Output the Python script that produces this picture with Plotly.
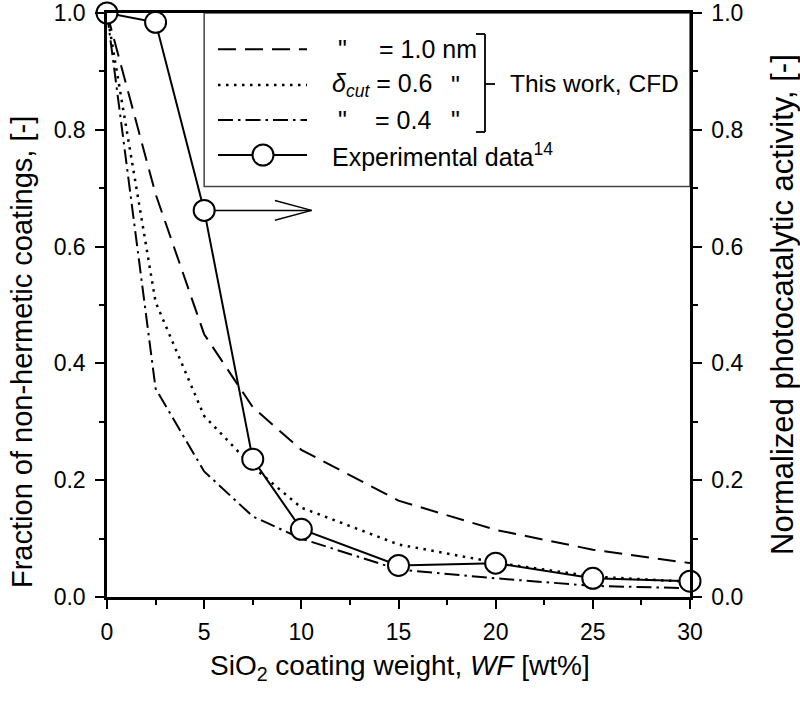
import plotly.graph_objects as go

# ---- data ----
wf_cfd = [0, 2.5, 5, 7.5, 10, 15, 20, 25, 30]
frac_10nm = [1.0, 0.69, 0.45, 0.325, 0.252, 0.165, 0.115, 0.081, 0.058]
frac_06nm = [1.0, 0.505, 0.31, 0.223, 0.153, 0.09, 0.059, 0.035, 0.026]
frac_04nm = [1.0, 0.357, 0.215, 0.138, 0.10, 0.047, 0.032, 0.019, 0.015]

wf_exp = [0, 2.5, 5, 7.5, 10, 15, 20, 25, 30]
activity_exp = [1.0, 0.984, 0.662, 0.236, 0.116, 0.054, 0.058, 0.032, 0.027]

x_ticks = [0, 5, 10, 15, 20, 25, 30]
y_ticks = [0.0, 0.2, 0.4, 0.6, 0.8, 1.0]

FONT = "Liberation Sans, Arial, sans-serif"
BLACK = "black"

DASH_LONG = "18px,9px"
DOT = "2.5px,5.5px"
DASH_DOT = "15px,5px,2.5px,5px"

fig = go.Figure()

fig.add_trace(go.Scatter(x=wf_cfd, y=frac_10nm, mode="lines",
                         line=dict(color=BLACK, width=2, dash=DASH_LONG),
                         showlegend=False))
fig.add_trace(go.Scatter(x=wf_cfd, y=frac_06nm, mode="lines",
                         line=dict(color=BLACK, width=2.5, dash=DOT),
                         showlegend=False))
fig.add_trace(go.Scatter(x=wf_cfd, y=frac_04nm, mode="lines",
                         line=dict(color=BLACK, width=2, dash=DASH_DOT),
                         showlegend=False))
fig.add_trace(go.Scatter(x=wf_exp, y=activity_exp, mode="lines+markers",
                         yaxis="y2", cliponaxis=False,
                         line=dict(color=BLACK, width=2),
                         marker=dict(symbol="circle", size=21, color="white",
                                     line=dict(color=BLACK, width=2)),
                         showlegend=False))

W, H = 800, 704
L, T = 107, 13
PW, PH = 583, 584
R = W - L - PW
B = H - T - PH

SX0, SY1 = L, T + PH


def px(xs):
    return (xs - SX0) / PW


def py(ys):
    return (SY1 - ys) / PH


shapes = []
annotations = []

# legend box (data coords)
shapes.append(dict(type="rect", xref="x", yref="y", x0=5.0, x1=30, y0=0.703, y1=1.0,
                   line=dict(color="#444", width=1.5), fillcolor="rgba(0,0,0,0)", layer="below"))

# legend samples
rows = [49.3, 85, 120, 155]
lx0, lx1 = px(218), px(307)
for yy, dash in zip(rows[:3], [DASH_LONG, DOT, DASH_DOT]):
    shapes.append(dict(type="line", xref="paper", yref="paper", x0=lx0, x1=lx1,
                       y0=py(yy), y1=py(yy),
                       line=dict(color=BLACK, width=2.5 if dash == DOT else 2, dash=dash)))
shapes.append(dict(type="line", xref="paper", yref="paper", x0=lx0, x1=lx1,
                   y0=py(rows[3]), y1=py(rows[3]), line=dict(color=BLACK, width=2)))
rr = 10.5
shapes.append(dict(type="circle", xref="paper", yref="paper",
                   x0=px(263 - rr), x1=px(263 + rr), y0=py(rows[3] + rr), y1=py(rows[3] - rr),
                   fillcolor="white", line=dict(color=BLACK, width=2)))

# bracket
bx = px(485)
shapes.append(dict(type="line", xref="paper", yref="paper", x0=bx, x1=bx, y0=py(34), y1=py(132),
                   line=dict(color=BLACK, width=1.8)))
shapes.append(dict(type="line", xref="paper", yref="paper", x0=px(476), x1=bx, y0=py(34), y1=py(34),
                   line=dict(color=BLACK, width=1.8)))
shapes.append(dict(type="line", xref="paper", yref="paper", x0=px(476), x1=bx, y0=py(132), y1=py(132),
                   line=dict(color=BLACK, width=1.8)))
shapes.append(dict(type="line", xref="paper", yref="paper", x0=bx, x1=px(495), y0=py(84), y1=py(84),
                   line=dict(color=BLACK, width=1.8)))

# arrow toward right axis
ay = activity_exp[2]
shapes.append(dict(type="line", xref="x", yref="y2", x0=5.5, x1=10.53, y0=ay, y1=ay,
                   line=dict(color=BLACK, width=1.5)))
shapes.append(dict(type="line", xref="x", yref="y2", x0=8.64, x1=10.53, y0=ay + 0.017, y1=ay,
                   line=dict(color=BLACK, width=1.5)))
shapes.append(dict(type="line", xref="x", yref="y2", x0=8.64, x1=10.53, y0=ay - 0.017, y1=ay,
                   line=dict(color=BLACK, width=1.5)))

LEG = 25


def txt(x, y, s, anchor="left", size=LEG):
    annotations.append(dict(xref="paper", yref="paper", x=x, y=y, text=s, showarrow=False,
                            xanchor=anchor, yanchor="middle",
                            font=dict(family=FONT, size=size, color=BLACK)))


txt(px(342), py(rows[0]), '"', "center")
txt(px(377), py(rows[0]), "= 1.0 nm")
txt(px(330), py(rows[1]), "<i>δ</i><sub><i>cut</i></sub> = 0.6")
txt(px(455), py(rows[1]), '"', "center")
txt(px(342), py(rows[2]), '"', "center")
txt(px(373), py(rows[2]), "= 0.4")
txt(px(455), py(rows[2]), '"', "center")
txt(px(330), py(rows[3]), "Experimental data<sup>14</sup>")
txt(px(508), py(84), "This work, CFD", size=24.5)

# axis titles
annotations.append(dict(xref="paper", yref="paper", x=px(400), y=py(667),
                        text="SiO<sub>2</sub> coating weight, <i>WF</i> [wt%]", showarrow=False,
                        xanchor="center", yanchor="middle",
                        font=dict(family=FONT, size=28, color=BLACK)))
annotations.append(dict(xref="paper", yref="paper", x=px(22), y=py(352),
                        text="Fraction of non-hermetic coatings, [-]", showarrow=False, textangle=-90,
                        xanchor="center", yanchor="middle",
                        font=dict(family=FONT, size=29, color=BLACK)))
annotations.append(dict(xref="paper", yref="paper", x=px(782), y=py(305),
                        text="Normalized photocatalytic activity, [-]", showarrow=False, textangle=-90,
                        xanchor="center", yanchor="middle",
                        font=dict(family=FONT, size=31, color=BLACK)))

axis_common = dict(showline=True, linecolor=BLACK, linewidth=2.5, ticks="outside", ticklen=9,
                   tickwidth=2, tickcolor=BLACK, showgrid=False, zeroline=False, automargin=False,
                   tickfont=dict(family=FONT, size=23, color=BLACK))

fig.update_layout(
    width=W, height=H,
    margin=dict(l=L, r=R, t=T, b=B, autoexpand=False),
    paper_bgcolor="white", plot_bgcolor="white",
    showlegend=False,
    xaxis=dict(range=[0, 30], tickvals=x_ticks, mirror=True,
               minor=dict(dtick=2.5, ticks="outside", ticklen=5, tickwidth=2, tickcolor=BLACK),
               ticklabelstandoff=4, **axis_common),
    yaxis=dict(range=[0, 1], tickvals=y_ticks, tickformat=".1f",
               minor=dict(dtick=0.1, ticks="outside", ticklen=5, tickwidth=2, tickcolor=BLACK),
               ticklabelstandoff=5, **axis_common),
    yaxis2=dict(range=[0, 1], tickvals=y_ticks, tickformat=".1f", overlaying="y", side="right",
                minor=dict(dtick=0.1, ticks="outside", ticklen=5, tickwidth=2, tickcolor=BLACK),
                ticklabelstandoff=5, **axis_common),
    shapes=shapes,
    annotations=annotations,
)

fig.write_html("out.html", config={"displayModeBar": False},
               post_script="document.body.style.margin='0';document.body.style.overflow='hidden';")
